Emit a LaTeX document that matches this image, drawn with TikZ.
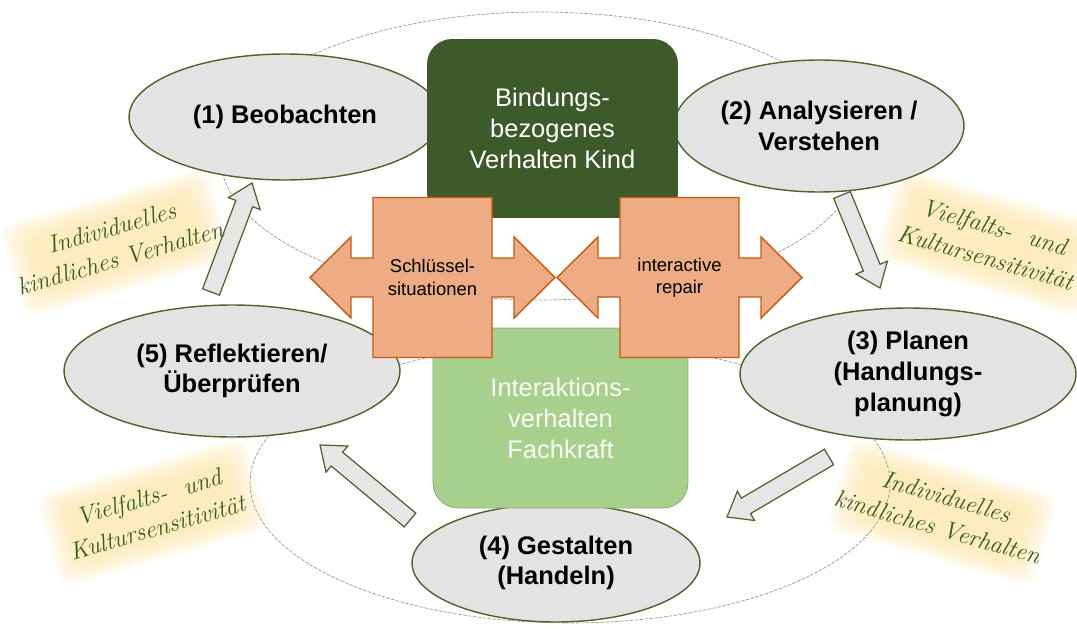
\documentclass[tikz,border=0pt]{standalone}
\usepackage{fontspec}
\setmainfont{Liberation Sans}
\newfontfamily\skriptfamily{Latin Modern Roman}
\usetikzlibrary{shapes.geometric, calc}
\definecolor{dunkelgruen}{RGB}{61,90,43}
\definecolor{hellgruen}{RGB}{168,208,141}
\definecolor{ellipsengrau}{RGB}{227,227,227}
\definecolor{randgruen}{RGB}{79,98,40}
\definecolor{orangefuell}{RGB}{237,172,131}
\definecolor{orangerand}{RGB}{197,90,17}
\definecolor{pfeilgrau}{RGB}{231,230,230}
\definecolor{glowgelb}{RGB}{252,228,165}
\definecolor{skriptgruen}{RGB}{52,92,32}
\tikzset{
    %Hintergrundellipsen
    ring/.style={
           ellipse,
           draw=gray!80,
           line width=0.4pt,
           dash pattern=on 2pt off 0.8pt},
    %Phasen des Zyklus
    phase/.style={
           ellipse,
           draw=randgruen, line width=0.8pt,
           fill=ellipsengrau,
           inner sep=0pt,
           align=center,
           font=\fontsize{14.5}{17.5}\selectfont\bfseries},
    %Kaesten in der Mitte
    kasten/.style={
           rectangle,
           rounded corners=0.5cm,
           align=center,
           font=\fontsize{14.5}{17.6}\selectfont},
    %orange Doppelpfeile
    kreuzpfeil/.pic={
           \draw[draw=orangerand, fill=orangefuell, line width=0.8pt]
              (-59.5,-80) -- (59.5,-80) -- (59.5,-19.5) -- (81.5,-19.5) -- (81.5,-40.5)
              -- (122.5,0) -- (81.5,40.5) -- (81.5,19.5) -- (59.5,19.5) -- (59.5,80)
              -- (-59.5,80) -- (-59.5,19.5) -- (-81.5,19.5) -- (-81.5,40.5) -- (-122.5,0)
              -- (-81.5,-40.5) -- (-81.5,-19.5) -- (-59.5,-19.5) -- cycle;},
    kreuztext/.style={
           align=center,
           font=\fontsize{10.5}{12.7}\selectfont},
    % graue Blockpfeile
    blockpfeil/.style={
           draw=randgruen, fill=pfeilgrau, line width=0.7pt,
           to path={
              ($(\tikztostart)!0.18cm!90:(\tikztotarget)$)
              -- ($(\tikztotarget)!0.44cm!(\tikztostart)!0.18cm!90:(\tikztotarget)$)
              -- ($(\tikztotarget)!0.44cm!(\tikztostart)!0.34cm!90:(\tikztotarget)$)
              -- (\tikztotarget)
              -- ($(\tikztotarget)!0.44cm!(\tikztostart)!0.34cm!-90:(\tikztotarget)$)
              -- ($(\tikztotarget)!0.44cm!(\tikztostart)!0.18cm!-90:(\tikztotarget)$)
              -- ($(\tikztostart)!0.18cm!-90:(\tikztotarget)$)
              -- cycle}},
    % Hinweise am Rand
    glowschicht/.style={
           rectangle,
           fill=glowgelb, fill opacity=0.18,
           rounded corners=8pt,
           inner sep=0pt},
    skript/.style={
           align=center,
           text=skriptgruen,
           font=\skriptfamily\itshape\fontsize{14}{18}\selectfont}
}

\begin{document}
\begin{tikzpicture}[x=0.02cm, y=-0.02cm]
	\useasboundingbox (0,0) rectangle (1077,628);
	%
	% Hinweise (Hintergrund)
	%
	\coordinate (g1) at (116,243);
	\coordinate (g2) at (990,242);
	\coordinate (g3) at (153,512);
	\coordinate (g4) at (942,512);
	\foreach \ort/\winkel in {g1/16, g2/-16, g3/16, g4/-16}
	  \foreach \i in {0,...,5}
	    \node[glowschicht, rotate=\winkel, minimum width={4.3cm-\i*0.2cm}, minimum height={1.9cm-\i*0.16cm}] at (\ort) {};
	%
	% Ellipsen
	%
	\node[ring, minimum width=12.8cm, minimum height=5.76cm] (ring1) at (540,156) {};
	\node[ring, minimum width=12.8cm, minimum height=5.6cm] (ring2) at (570,483) {};
	\node[phase, minimum width=6.24cm, minimum height=2.52cm] (beob) at (285,117) {(1) Beobachten};
	\node[phase, minimum width=5.8cm, minimum height=2.64cm] (anal) at (819,126) {(2) Analysieren /\\Verstehen};
	\node[phase, minimum width=6.72cm, minimum height=2.64cm] (plan) at (908,374) {(3) Planen\\(Handlungs-\\planung)};
	\node[phase, minimum width=5.76cm, minimum height=2.36cm] (gest) at (556,563) {(4) Gestalten\\(Handeln)};
	\node[phase, minimum width=6.72cm, minimum height=2.64cm] (refl) at (232,371) {(5) Reflektieren/\\Überprüfen};
	%
	% Kaesten
	%
	\node[kasten, fill=dunkelgruen, text=white, minimum width=5.02cm, minimum height=3.58cm] (kind) at (552.5,128.5) {Bindungs-\\bezogenes\\Verhalten Kind};
	\node[kasten, fill=hellgruen, draw=hellgruen!80!black, text=white!92!hellgruen, minimum width=5.1cm, minimum height=3.6cm] (fach) at (560.5,418) {Interaktions-\\verhalten\\Fachkraft};
	%
	% Doppelpfeile
	%
	\coordinate (schl) at (432.5,277.5);
	\coordinate (rep) at (679.5,277.5);
	\pic at (schl) {kreuzpfeil};
	\pic at (rep) {kreuzpfeil};
	\node[kreuztext] (schltext) at (schl) {Schlüssel-\\situationen};
	\node[kreuztext] (reptext) at (rep) {interactive\\repair};
	%
	% Zyklus
	%
	\coordinate (pfeil1a) at (211,292);
	\coordinate (pfeil1b) at (252,183);
	\coordinate (pfeil2a) at (842,195);
	\coordinate (pfeil2b) at (880,288);
	\coordinate (pfeil3a) at (829,457);
	\coordinate (pfeil3b) at (727,517);
	\coordinate (pfeil4a) at (410,520);
	\coordinate (pfeil4b) at (320,445);
	\draw[blockpfeil] (pfeil1a) to (pfeil1b);
	\draw[blockpfeil] (pfeil2a) to (pfeil2b);
	\draw[blockpfeil] (pfeil3a) to (pfeil3b);
	\draw[blockpfeil] (pfeil4a) to (pfeil4b);
	%
	% Hinweise
	%
	\node[skript, rotate=16] (hinweis1) at (g1) {Individuelles\\kindliches Verhalten};
	\node[skript, rotate=-16] (hinweis2) at (g2) {Vielfalts-\ \ und\\Kultursensitivität};
	\node[skript, rotate=16] (hinweis3) at (g3) {Vielfalts-\ \ und\\Kultursensitivität};
	\node[skript, rotate=-16] (hinweis4) at (g4) {Individuelles\\kindliches Verhalten};
\end{tikzpicture}
\end{document}
